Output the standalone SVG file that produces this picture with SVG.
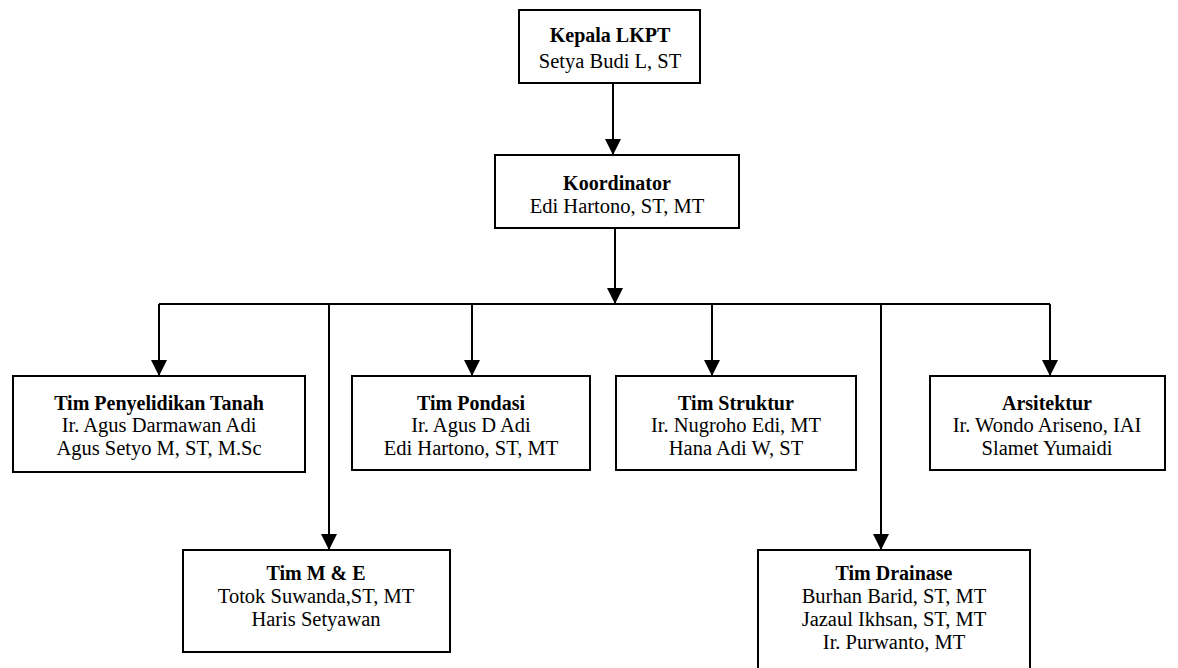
<svg xmlns="http://www.w3.org/2000/svg" width="1178" height="668" viewBox="0 0 1178 668">
  <style>
    .box { fill: #ffffff; stroke: #000000; stroke-width: 2; }
    .line { fill: none; stroke: #000000; stroke-width: 2; }
    text { font-family: "Liberation Serif", "Times New Roman", serif; font-size: 20.5px; fill: #000000; text-anchor: middle; }
    .title { font-weight: bold; font-size: 20px; }
  </style>
  <defs>
    <marker id="tri" markerUnits="userSpaceOnUse" markerWidth="16" markerHeight="16" viewBox="0 0 16 16" refX="16" refY="8" orient="auto">
      <path d="M0,0 L16,8 L0,16 Z" fill="#000000"/>
    </marker>
  </defs>
  <rect width="1178" height="668" fill="#ffffff"/>

  <g id="connectors">
    <line class="line" x1="613" y1="83" x2="613" y2="155" marker-end="url(#tri)"/>
    <line class="line" x1="615" y1="228" x2="615" y2="304" marker-end="url(#tri)"/>
    <line class="line" x1="159" y1="304" x2="1050" y2="304"/>
    <line class="line" x1="159" y1="304" x2="159" y2="376" marker-end="url(#tri)"/>
    <line class="line" x1="472" y1="304" x2="472" y2="376" marker-end="url(#tri)"/>
    <line class="line" x1="712" y1="304" x2="712" y2="376" marker-end="url(#tri)"/>
    <line class="line" x1="1050" y1="304" x2="1050" y2="376" marker-end="url(#tri)"/>
    <line class="line" x1="329" y1="304" x2="329" y2="550" marker-end="url(#tri)"/>
    <line class="line" x1="881" y1="304" x2="881" y2="550" marker-end="url(#tri)"/>
  </g>

  <g id="kepala">
    <rect class="box" x="519" y="10" width="181" height="73"/>
    <text class="title" x="610" y="42">Kepala LKPT</text>
    <text x="610" y="68">Setya Budi L, ST</text>
  </g>

  <g id="koordinator">
    <rect class="box" x="495" y="155" width="244" height="73"/>
    <text class="title" x="617" y="190">Koordinator</text>
    <text x="617" y="213">Edi Hartono, ST, MT</text>
  </g>

  <g id="penyelidikan">
    <rect class="box" x="13" y="376" width="292" height="96"/>
    <text class="title" x="159" y="410">Tim Penyelidikan Tanah</text>
    <text x="159" y="432">Ir. Agus Darmawan Adi</text>
    <text x="159" y="455">Agus Setyo M, ST, M.Sc</text>
  </g>

  <g id="pondasi">
    <rect class="box" x="352" y="376" width="238" height="94"/>
    <text class="title" x="471" y="410">Tim Pondasi</text>
    <text x="471" y="432">Ir. Agus D Adi</text>
    <text x="471" y="455">Edi Hartono, ST, MT</text>
  </g>

  <g id="struktur">
    <rect class="box" x="616" y="376" width="240" height="94"/>
    <text class="title" x="736" y="410">Tim Struktur</text>
    <text x="736" y="432">Ir. Nugroho Edi, MT</text>
    <text x="736" y="455">Hana Adi W, ST</text>
  </g>

  <g id="arsitektur">
    <rect class="box" x="930" y="376" width="235" height="94"/>
    <text class="title" x="1047" y="410">Arsitektur</text>
    <text x="1047" y="432">Ir. Wondo Ariseno, IAI</text>
    <text x="1047" y="455">Slamet Yumaidi</text>
  </g>

  <g id="me">
    <rect class="box" x="183" y="550" width="267" height="102"/>
    <text class="title" x="316" y="580">Tim M &amp; E</text>
    <text x="316" y="603">Totok Suwanda,ST, MT</text>
    <text x="316" y="626">Haris Setyawan</text>
  </g>

  <g id="drainase">
    <rect class="box" x="758" y="550" width="272" height="140"/>
    <text class="title" x="894" y="580">Tim Drainase</text>
    <text x="894" y="603">Burhan Barid, ST, MT</text>
    <text x="894" y="626">Jazaul Ikhsan, ST, MT</text>
    <text x="894" y="649">Ir. Purwanto, MT</text>
  </g>
</svg>
